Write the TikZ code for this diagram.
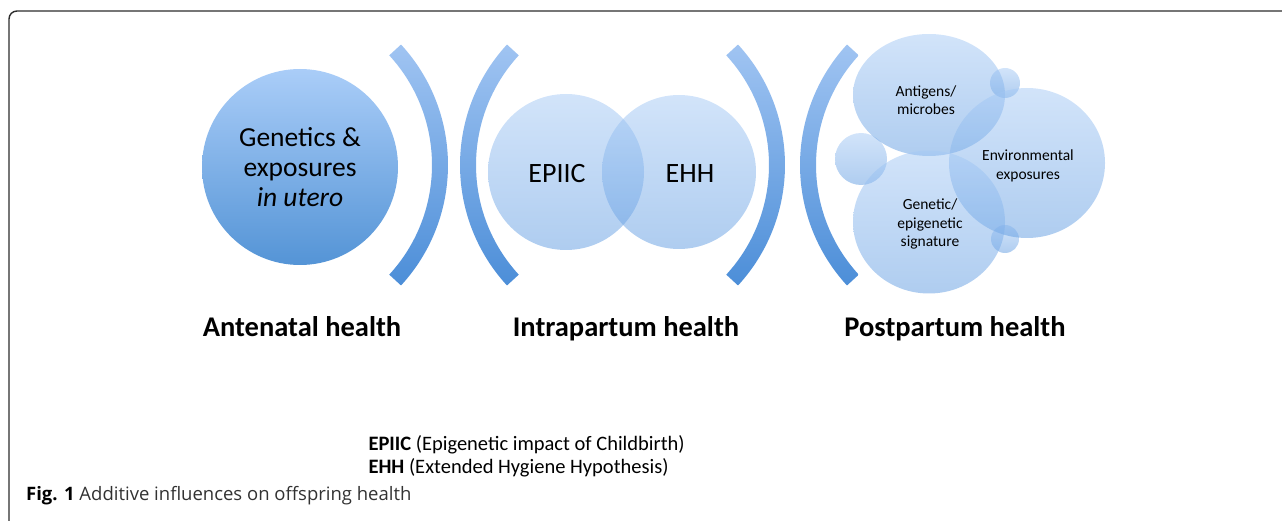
\documentclass[tikz,border=0pt]{standalone}
\usepackage{fontspec}
\setmainfont{Carlito}
\newfontfamily\capfont{Open Sans}
\usepackage{tikz}
\usetikzlibrary{shapes.geometric}
\definecolor{arctop}{RGB}{160,196,242}
\definecolor{arcbot}{RGB}{76,142,216}
\definecolor{bigtop}{RGB}{170,205,248}
\definecolor{bigbot}{RGB}{84,148,214}
\definecolor{bubtop}{RGB}{165,201,245}
\definecolor{bubbot}{RGB}{95,155,225}
\definecolor{framegray}{RGB}{45,45,45}
\definecolor{captext}{RGB}{50,50,50}
\tikzstyle{arcband} = [top color=arctop, bottom color=arcbot]
\tikzstyle{bigbubble} = [circle, inner sep=0pt, top color=bigtop, bottom color=bigbot]
\tikzstyle{bubble} = [ellipse, inner sep=0pt, top color=bubtop, bottom color=bubbot, fill opacity=0.5]
\tikzstyle{phase} = [anchor=base, font=\fontsize{28.5}{34}\selectfont\bfseries]
\tikzstyle{smalltext} = [align=center, font=\fontsize{15.5}{18.5}\selectfont]
\tikzstyle{legend} = [anchor=base west, font=\fontsize{20.5}{23}\selectfont]
% bracket band: centre x, start angle, end angle
\newcommand{\bendbar}[3]{%
	\shade[arcband] ([shift={(#2:178)}]#1,165) arc[start angle=#2, end angle=#3, radius=178]
		-- ([shift={(#3:162)}]#1,165) arc[start angle=#3, end angle=#2, radius=162] -- cycle;}

\begin{document}
\begin{tikzpicture}[x=1pt, y=-1pt]
	\useasboundingbox (0,0) rectangle (1282,521);
	\draw[framegray, line width=1.4pt, rounded corners=8pt] (9,525) -- (9,11) -- (1290,11);

	% antenatal
	\node[bigbubble, minimum size=196pt](utero) at (300,167) {};
	\node[align=center, font=\fontsize{27.5}{30}\selectfont] at (utero) {Genetics \&\\exposures\\\textit{in utero}};

	% brackets
	\bendbar{270}{-42.6}{42.6}
	\bendbar{638}{137.4}{222.6}
	\bendbar{607}{-42.6}{42.6}
	\bendbar{978}{137.4}{222.6}

	% intrapartum
	\node[bubble, minimum width=156pt, minimum height=156pt](epiic) at (566,172) {};
	\node[bubble, minimum width=154pt, minimum height=154pt](ehh) at (679,172) {};
	\node[font=\fontsize{28}{34}\selectfont] at ([xshift=-9pt, yshift=-2pt]epiic) {EPIIC};
	\node[font=\fontsize{28}{34}\selectfont] at ([xshift=11pt, yshift=-2pt]ehh) {EHH};

	% postpartum
	\node[bubble, minimum width=52pt, minimum height=52pt](dotl) at (861,159) {};
	\node[bubble, minimum width=30pt, minimum height=30pt](dottr) at (1005,83) {};
	\node[bubble, minimum width=28pt, minimum height=28pt](dotbr) at (1005,239) {};
	\node[bubble, minimum width=152pt, minimum height=122pt](antigens) at (929,95) {};
	\node[bubble, minimum width=156pt, minimum height=150pt](environ) at (1027,163) {};
	\node[bubble, minimum width=152pt, minimum height=143pt](genetic) at (929,222) {};
	\node[smalltext] at (926,100) {Antigens/\\microbes};
	\node[smalltext] at (1028,166) {Environmental\\exposures};
	\node[smalltext] at (930,224) {Genetic/\\epigenetic\\signature};

	% phase titles
	\node[phase](ante) at (302,336) {Antenatal health};
	\node[phase](intra) at (626,336) {Intrapartum health};
	\node[phase](post) at (955,336) {Postpartum health};

	% legend and caption
	\node[legend](legepiic) at (365,450) {\textbf{EPIIC} (Epigenetic impact of Childbirth)};
	\node[legend](legehh) at (365,473) {\textbf{EHH} (Extended Hygiene Hypothesis)};
	\node[anchor=base west, inner sep=0pt, font=\capfont\fontsize{18.5}{22}\selectfont, text=captext](fig) at (26,500) {\textbf{\color{black}Fig. 1} Additive influences on offspring health};
\end{tikzpicture}
\end{document}
